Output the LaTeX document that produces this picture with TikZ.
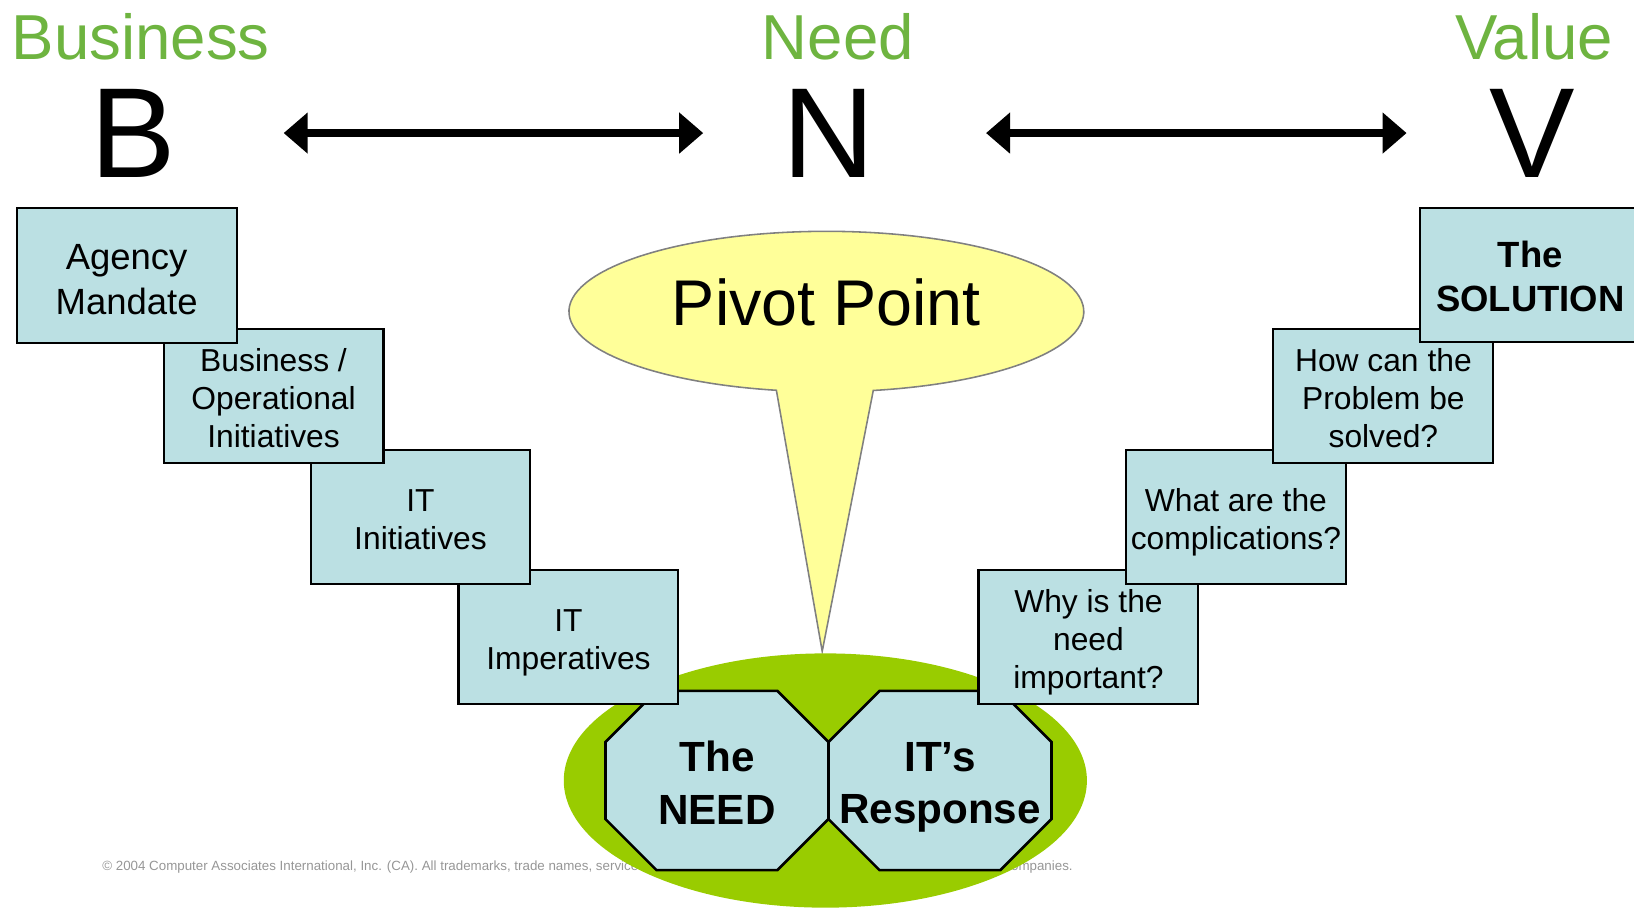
\documentclass[tikz,border=0pt]{standalone}
\usepackage{fontspec}
\setmainfont{Liberation Sans}
\usetikzlibrary{arrows.meta}

\definecolor{stepfill}{RGB}{187,224,227}
\definecolor{headgreen}{RGB}{110,180,64}
\definecolor{padgreen}{RGB}{153,204,0}
\definecolor{bubble}{RGB}{255,255,153}
\definecolor{bubbleline}{RGB}{128,128,128}
\definecolor{notegray}{RGB}{150,150,150}

\tikzset{
  octagon/.pic={
    \path[octline] (-58,86) -- (58,86) -- (107,37) -- (107,-37)
      -- (58,-86) -- (-58,-86) -- (-107,-37) -- (-107,37) -- cycle;
    \node[octtext] (-text) at (0,-6.3) {#1};
  }
}

\begin{document}
\begin{tikzpicture}[x=1pt,y=1pt,
  title/.style={text=headgreen, font=\fontsize{61}{61}\selectfont, anchor=base, inner sep=0pt},
  letter/.style={font=\fontsize{123}{123}\selectfont, anchor=base, inner sep=0pt},
  bigarrow/.style={line width=7pt,
    {Triangle[length=23pt,width=38pt]}-{Triangle[length=23pt,width=38pt]}},
  stepbox/.style={draw=black, line width=2pt, fill=stepfill,
    minimum width=211pt, minimum height=129pt, inner sep=0pt},
  steptext/.style={inner sep=0pt, align=center, font=\fontsize{30.5}{36.5}\selectfont},
  bigtext/.style={inner sep=0pt, align=center, font=\fontsize{35}{43}\selectfont},
  boldtext/.style={inner sep=0pt, align=center, font=\bfseries\fontsize{35}{42}\selectfont},
  octtext/.style={inner sep=0pt, align=center, font=\bfseries\fontsize{40.5}{50}\selectfont,
    execute at end node={\vphantom{p}}},
  octline/.style={draw=black, line width=2.5pt, fill=stepfill, line join=miter},
]
\useasboundingbox (0,0) rectangle (1568,871);

% footer note, partly covered by the green pad
\node[anchor=base west, inner sep=0pt, text=notegray, font=\fontsize{12.8}{15}\selectfont]
  (note) at (98,36) {© 2004 Computer Associates International, Inc. (CA). All trademarks, trade names, service marks and logos referenced herein belong to their respective companies.};

% speech bubble pointing down to the pivot
\coordinate (tip) at (789,246);
\filldraw[fill=bubble, draw=bubbleline, line width=1.5pt]
  (tip) -- (838,496.3) arc[start angle=280.5, end angle=618.8, x radius=247pt, y radius=77pt] -- cycle;
\node[inner sep=0pt, font=\fontsize{62}{62}\selectfont] (pivot) at (793,581) {Pivot Point};

% green pad under the two octagons
\fill[padgreen] (792,122) ellipse [x radius=251pt, y radius=122pt];
\pic (theneed) at (688,122) {octagon={The\\NEED}};
\pic (response) at (902,122) {octagon={IT’s\\Response}};

% left staircase (upper steps lie on top)
\node[stepbox, label={[name=imper-t, steptext, yshift=-5pt]center:{IT\\Imperatives}}]
  (imper) at (545.5,259.5) {};
\node[stepbox, label={[name=itinit-t, steptext, yshift=-3pt]center:{IT\\Initiatives}}]
  (itinit) at (403.5,375) {};
\node[stepbox, label={[name=busop-t, steptext, yshift=-2pt]center:{Business /\\Operational\\Initiatives}}]
  (busop) at (262.5,491) {};
\node[stepbox, label={[name=agency-t, bigtext, yshift=-4pt]center:{Agency\\Mandate}}]
  (agency) at (121.5,606.5) {};

% right staircase
\node[stepbox, label={[name=why-t, steptext, yshift=-5pt]center:{Why is the\\need\\important?}}]
  (why) at (1044.5,259.5) {};
\node[stepbox, label={[name=what-t, steptext, yshift=-5pt]center:{What are the\\complications?}}]
  (what) at (1186,375) {};
\node[stepbox, label={[name=how-t, steptext, yshift=-2pt]center:{How can the\\Problem be\\solved?}}]
  (how) at (1327.5,491) {};
\node[stepbox, label={[name=solution-t, boldtext, yshift=-1pt]center:{The\\SOLUTION}}]
  (solution) at (1468.5,607) {};

% headings
\node[title] (business) at (135,814) {Business};
\node[title] (need) at (804,814) {Need};
\node[title] (value) at (1472,814) {Value};
\node[letter] (B) at (128,701) {B};
\node[letter] (N) at (795,701) {N};
\node[letter] (V) at (1470,701) {V};

\draw[bigarrow, shorten <=103pt, shorten >=75.6pt] (B) -- (N);
\draw[bigarrow, shorten <=106.6pt, shorten >=79pt] (N) -- (V);
\end{tikzpicture}
\end{document}
